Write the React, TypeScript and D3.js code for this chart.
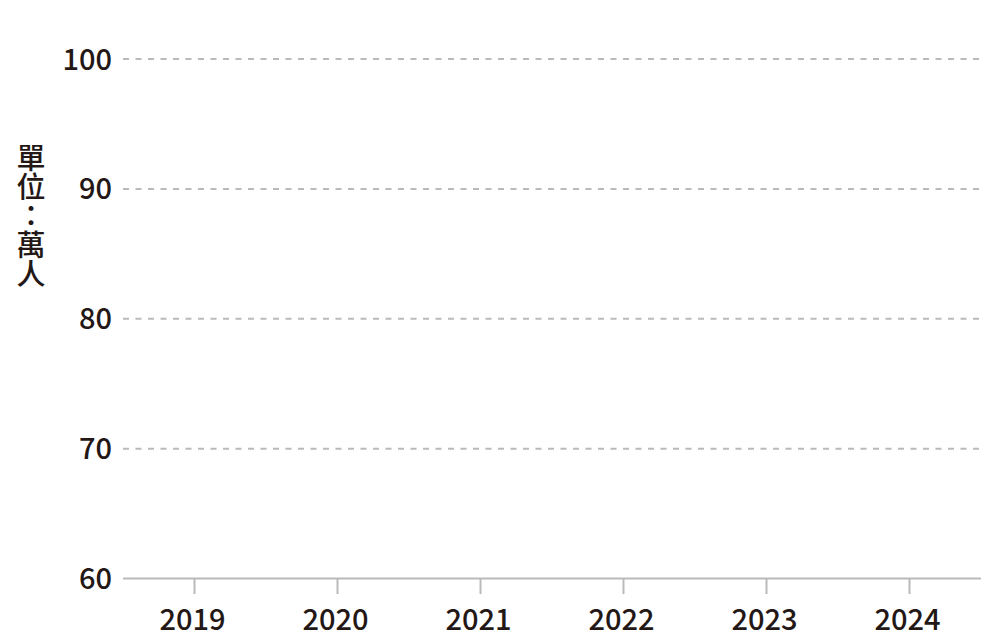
import React from "react";
import * as d3 from "d3";

const years: string[] = ["2019", "2020", "2021", "2022", "2023", "2024"];
const yTicks: number[] = [60, 70, 80, 90, 100];
const yDomain: [number, number] = [60, 100];
const yLabel = "單位：萬人";

const W = 1000;
const H = 644;
const left = 123;
const right = 981;
const top = 59;
const bottom = 578.5;
const textColor = "#231815";
const gridColor = "#bababa";
const font = "'Noto Sans CJK TC', 'Noto Sans', sans-serif";

export default function App() {
  const x = d3.scaleBand<string>().domain(years).range([left, right]).padding(0);
  const y = d3.scaleLinear().domain(yDomain).range([bottom, top]);

  return (
    <svg
      width={W}
      height={H}
      viewBox={`0 0 ${W} ${H}`}
      style={{ position: "absolute", left: 0, top: 0, background: "#fff" }}
      fontFamily={font}
    >
      {/* grid lines */}
      {yTicks
        .filter((t) => t !== yDomain[0])
        .map((t) => (
          <line
            key={"g" + t}
            x1={left}
            x2={right - 1}
            y1={y(t)}
            y2={y(t)}
            stroke={gridColor}
            strokeWidth={2}
            strokeDasharray="6 6.5"
          />
        ))}
      {/* y tick labels */}
      {yTicks.map((t) => (
        <text
          key={"yl" + t}
          x={112}
          y={y(t) + 10.5}
          textAnchor="end"
          fontSize={29}
          fontWeight={500}
          fill={textColor}
        >
          {t}
        </text>
      ))}
      {/* x axis */}
      <line x1={left} x2={right} y1={bottom} y2={bottom} stroke={gridColor} strokeWidth={2} />
      {years.map((yr) => {
        const cx = (x(yr) as number) + x.bandwidth() / 2;
        return (
          <g key={yr}>
            <line x1={cx} x2={cx} y1={bottom} y2={bottom + 15.5} stroke={gridColor} strokeWidth={2} />
            <text x={cx - 2} y={629.5} textAnchor="middle" fontSize={29} fontWeight={500} fill={textColor}>
              {yr}
            </text>
          </g>
        );
      })}
      {/* y axis unit label, vertical */}
      <text
        x={31}
        y={143}
        style={{ writingMode: "vertical-rl" }}
        fontSize={29}
        fontWeight={500}
        fill={textColor}
      >
        {yLabel}
      </text>
    </svg>
  );
}
